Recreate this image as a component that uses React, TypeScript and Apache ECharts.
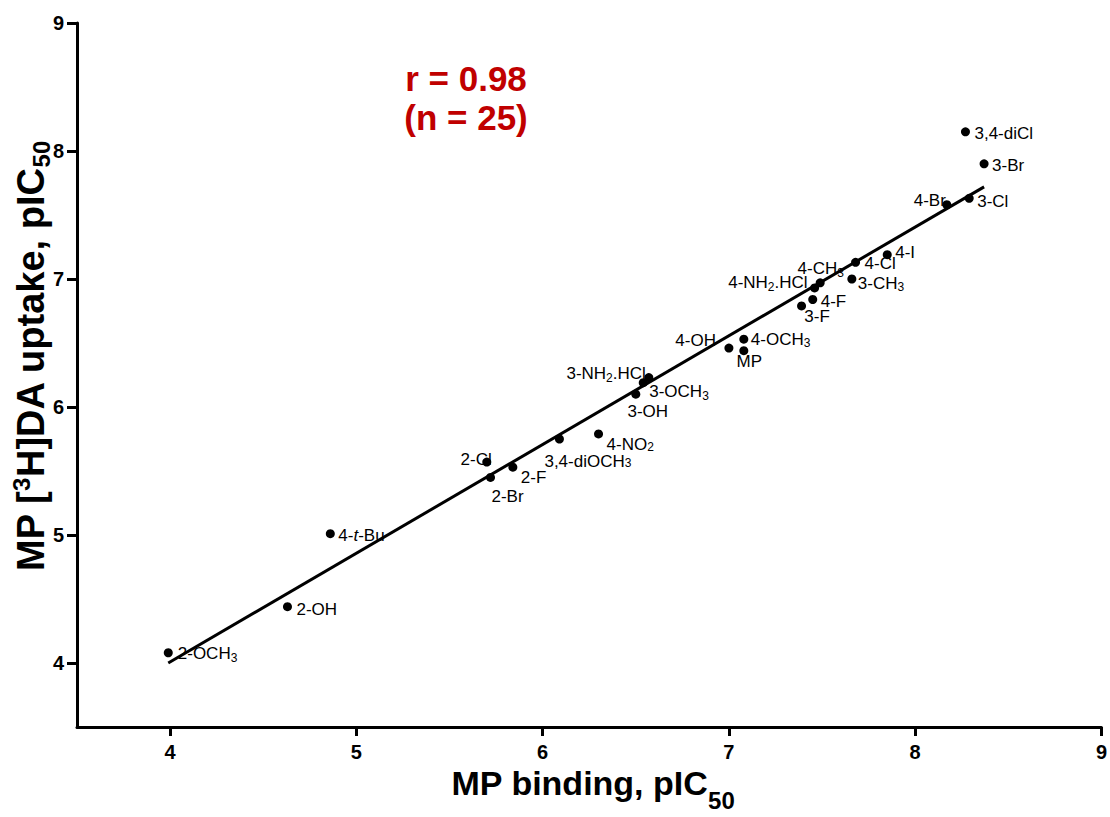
import React, { useEffect, useRef } from 'react';
import * as echarts from 'echarts';

// ---- data ----
const compounds = [
  '2-OCH3', '2-OH', '4-t-Bu', '2-Cl', '2-Br', '2-F', '3,4-diOCH3', '4-NO2',
  '3-NH2.HCl', '3-OCH3', '3-OH', '4-OH', '4-OCH3', 'MP', '3-F', '4-F',
  '4-NH2.HCl', '4-CH3', '3-CH3', '4-Cl', '4-I', '4-Br', '3-Cl', '3-Br', '3,4-diCl',
];
const mpBinding = [
  3.99, 4.63, 4.86, 5.70, 5.72, 5.84, 6.09, 6.30,
  6.57, 6.54, 6.50, 7.00, 7.08, 7.08, 7.39, 7.45,
  7.46, 7.49, 7.66, 7.68, 7.85, 8.17, 8.29, 8.37, 8.27,
];
const daUptake = [
  4.08, 4.44, 5.01, 5.57, 5.45, 5.53, 5.75, 5.79,
  6.23, 6.19, 6.10, 6.46, 6.53, 6.44, 6.79, 6.84,
  6.93, 6.97, 7.00, 7.13, 7.19, 7.58, 7.63, 7.90, 8.15,
];
const fitX = [3.99, 8.37];
const fitY = [4.0, 7.72];
const xTicks = [4, 5, 6, 7, 8, 9];
const yTicks = [4, 5, 6, 7, 8, 9];
const rText = 'r = 0.98';
const nText = '(n = 25)';

// label placement (style, not data): position, dx, dy, lineHeight
const labelPlace: Record<string, [string, number, number, number?]> = {
  '2-OCH3': ['right', 0, 1],
  '2-OH': ['right', -0.5, 3],
  '4-t-Bu': ['right', -1.5, 2],
  '2-Cl': ['left', 14.5, -3],
  '2-Br': ['bottom', 17, 0],
  '2-F': ['right', -1.5, 10],
  '3,4-diOCH3': ['bottom', 28.5, 4.5, 16],
  '4-NO2': ['right', -1.5, 11, 16],
  '3-NH2.HCl': ['left', 6.5, -4],
  '3-OCH3': ['right', -3.5, 9],
  '3-OH': ['bottom', 12, -2.5],
  '4-OH': ['left', -3.5, -8],
  '4-OCH3': ['right', -2.5, 0],
  'MP': ['bottom', 5.5, -8.5],
  '3-F': ['bottom', 15.5, -8.5],
  '4-F': ['right', -1.5, 2],
  '4-NH2.HCl': ['left', 2.5, -5],
  '4-CH3': ['top', 0.5, 5.5],
  '3-CH3': ['right', -3.5, 4],
  '4-Cl': ['right', -0.5, 1],
  '4-I': ['right', -1.5, -2],
  '4-Br': ['left', 8.5, -4],
  '3-Cl': ['right', -1.5, 3],
  '3-Br': ['right', -1.5, 2],
  '3,4-diCl': ['right', -0.5, 2],
};

const FONT = '"Liberation Sans", Arial, Helvetica, sans-serif';

function markup(name: string): string {
  return name
    .replace(/(CH|NO|NH)(\d)/g, '$1{s|$2}')
    .replace('t-Bu', '{i|t}-Bu');
}

export default function App() {
  const ref = useRef<HTMLDivElement>(null);

  useEffect(() => {
    if (!ref.current) return;
    const chart = echarts.init(ref.current, undefined, { renderer: 'svg' });

    const scatterData = compounds.map((n, i) => {
      const p = labelPlace[n] || ['right', 0, 0];
      const lbl: any = { position: p[0] as any, offset: [p[1], p[2]] };
      if (p[3]) {
        lbl.lineHeight = p[3];
        lbl.rich = {
          s: { fontSize: 12, lineHeight: 8, verticalAlign: 'bottom', color: '#000', fontFamily: FONT },
        };
      }
      return {
        name: n,
        value: [mpBinding[i], daUptake[i]],
        label: lbl,
      };
    });

    const axisCommon = {
      type: 'value' as const,
      min: 3.5,
      max: 9,
      splitLine: { show: false },
      axisLine: { show: true, onZero: false, lineStyle: { color: '#000', width: 3 } },
    };

    chart.setOption({
      animation: false,
      backgroundColor: '#fff',
      grid: { left: 77, right: 6, top: 23, bottom: 90, containLabel: false },
      xAxis: {
        ...axisCommon,
        axisTick: {
          show: true,
          length: 9,
          customValues: xTicks,
          lineStyle: { color: '#000', width: 3 },
        },
        axisLabel: {
          customValues: xTicks,
          fontSize: 20,
          fontWeight: 'bold',
          color: '#000',
          fontFamily: FONT,
          margin: 15,
        },
      },
      yAxis: {
        ...axisCommon,
        axisTick: {
          show: true,
          length: 10,
          customValues: yTicks,
          lineStyle: { color: '#000', width: 3 },
        },
        axisLabel: {
          customValues: yTicks,
          fontSize: 20,
          fontWeight: 'bold',
          color: '#000',
          fontFamily: FONT,
          margin: 13,
        },
      },
      series: [
        {
          type: 'line',
          data: fitX.map((x, i) => [x, fitY[i]]),
          showSymbol: false,
          symbol: 'none',
          silent: true,
          z: 2,
          lineStyle: { color: '#000', width: 3 },
        },
        {
          type: 'scatter',
          data: scatterData,
          symbol: 'circle',
          symbolSize: 9,
          z: 3,
          itemStyle: { color: '#000', opacity: 1 },
          label: {
            show: true,
            distance: 5,
            formatter: (p: any) => markup(p.name),
            fontSize: 17,
            lineHeight: 20,
            color: '#000',
            fontFamily: FONT,
            rich: {
              s: { fontSize: 12, lineHeight: 10, verticalAlign: 'bottom', color: '#000', fontFamily: FONT },
              i: { fontSize: 17, lineHeight: 20, fontStyle: 'italic', color: '#000', fontFamily: FONT },
            },
          },
        },
      ],
      graphic: [
        {
          type: 'text',
          x: 466,
          y: 98,
          z: 10,
          style: {
            text: rText + '\n' + nText,
            fill: '#c00000',
            font: `bold 35px ${FONT}`,
            lineHeight: 39,
            align: 'center',
            verticalAlign: 'middle',
          },
        },
        {
          type: 'text',
          x: 593,
          y: 783,
          z: 10,
          style: {
            text: '{m|MP binding, pIC}{sub|50}',
            align: 'center',
            verticalAlign: 'middle',
            rich: {
              m: { fontSize: 34, fontWeight: 'bold', fontFamily: FONT, fill: '#000', lineHeight: 58 },
              sub: { fontSize: 24, fontWeight: 'bold', fontFamily: FONT, fill: '#000', lineHeight: 10, verticalAlign: 'bottom' },
            },
          },
        },
        {
          type: 'text',
          x: 31,
          y: 356,
          rotation: Math.PI / 2,
          z: 10,
          style: {
            text: '{m|MP [}{sup|3}{m|H]DA uptake, pIC}{sub|50}',
            align: 'center',
            verticalAlign: 'middle',
            rich: {
              m: { fontSize: 38, fontWeight: 'bold', fontFamily: FONT, fill: '#000', lineHeight: 44 },
              sup: { fontSize: 24, fontWeight: 'bold', fontFamily: FONT, fill: '#000', lineHeight: 24, verticalAlign: 'top' },
              sub: { fontSize: 24, fontWeight: 'bold', fontFamily: FONT, fill: '#000', lineHeight: 10, verticalAlign: 'bottom' },
            },
          },
        },
      ],
    });

    return () => chart.dispose();
  }, []);

  return (
    <div
      ref={ref}
      style={{ position: 'absolute', left: 0, top: 0, width: 1110, height: 817 }}
    />
  );
}
